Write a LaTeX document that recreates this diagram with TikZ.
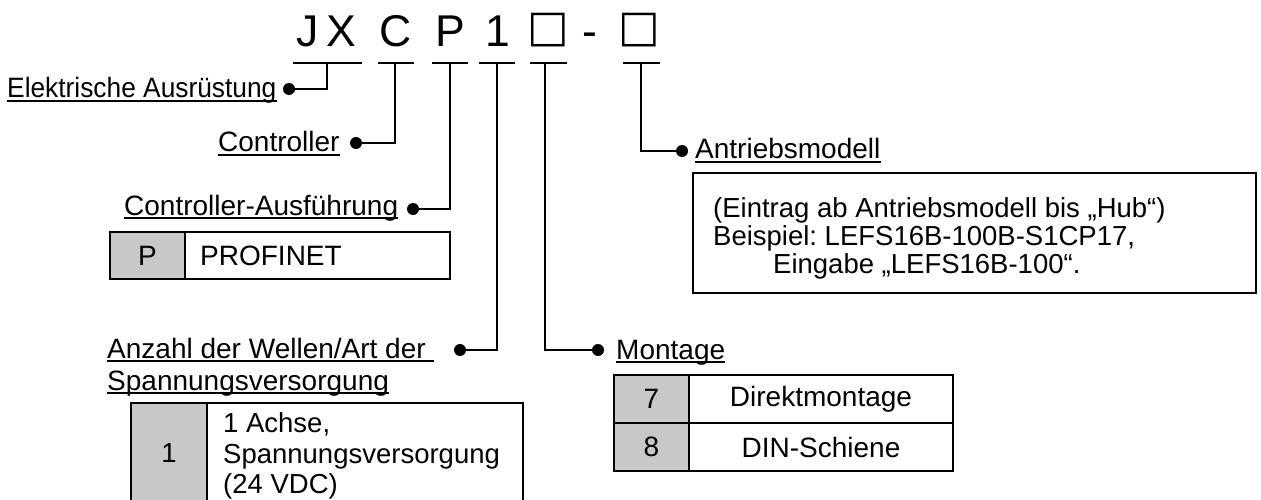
\documentclass[tikz,border=0pt]{standalone}
\usepackage{fontspec}
\setmainfont{Liberation Sans}
\newfontfamily\symfont{DejaVu Sans}
\newfontfamily\condfont[FakeStretch=0.94]{Liberation Sans}
\definecolor{cellgray}{RGB}{200,200,200}
\frenchspacing
\begin{document}
\begin{tikzpicture}[x=1pt,y=-1pt,
  lbl/.style={font=\fontsize{28}{32}\selectfont, anchor=base west, inner sep=0pt},
  txt/.style={font=\fontsize{27.5}{30}\selectfont, anchor=base west, inner sep=0pt},
  ctxt/.style={font=\fontsize{27.5}{30}\selectfont, inner sep=0pt},
  ttl/.style={font=\fontsize{44.5}{50}\selectfont, anchor=base, inner sep=0pt},
  ttlbox/.style={font=\symfont\fontsize{44}{50}\selectfont, anchor=base, inner sep=0pt},
  dot/.style={circle, fill=black, minimum size=12pt, inner sep=0pt},
  conn/.style={line width=1.8pt},
  ul/.style={line width=2.4pt},
  cell/.style={draw, line width=2.2pt, inner sep=0pt},
  gcell/.style={cell, fill=cellgray}]
\useasboundingbox (0,0) rectangle (1261,500);

% title
\node[ttl] (tJ) at (308,47) {J};
\node[ttl] (tX) at (341,47) {X};
\node[ttl] (tC) at (396,47) {C};
\node[ttl] (tP) at (450,47) {P};
\node[ttl] (t1) at (498,47) {1};
\node[ttlbox] (tb1) at (548,42) {□};
\node[ttl] (tm) at (590,47) {-};
\node[ttlbox] (tb2) at (639,42) {□};

% underline segments under the code
\coordinate (aL) at (293,63); \coordinate (aR) at (362,63); \coordinate (aJ) at (327,63);
\coordinate (bL) at (378,63); \coordinate (bR) at (414,63); \coordinate (bJ) at (395,63);
\coordinate (cL) at (432,63); \coordinate (cR) at (468,63); \coordinate (cJ) at (450,63);
\coordinate (dL) at (479,63); \coordinate (dR) at (515,63); \coordinate (dJ) at (497,63);
\coordinate (eL) at (530,63); \coordinate (eR) at (567,63); \coordinate (eJ) at (545,63);
\coordinate (fL) at (623,63); \coordinate (fR) at (660,63); \coordinate (fJ) at (641,63);
\draw[conn] (aL) -- (aR);
\draw[conn] (bL) -- (bR);
\draw[conn] (cL) -- (cR);
\draw[conn] (dL) -- (dR);
\draw[line width=2.8pt] (eL) -- (eR);
\draw[conn] (fL) -- (fR);

% dots
\node[dot] (d1) at (289,89) {};
\node[dot] (d2) at (356,143) {};
\node[dot] (d3) at (413,209) {};
\node[dot] (d4) at (460,350) {};
\node[dot] (d5) at (598,350) {};
\node[dot] (d6) at (682,151) {};

% connectors
\draw[conn] (aJ) |- (d1.center);
\draw[conn] (bJ) |- (d2.center);
\draw[conn] (cJ) |- (d3.center);
\draw[conn] (dJ) |- (d4.center);
\draw[conn] (eJ) |- (d5.center);
\draw[conn] (fJ) |- (d6.center);

% labels
\node[lbl] (l1) at (7,98) {\condfont Elektrische Ausrüstung};
\node[lbl] (l2) at (218,152) {Controller};
\node[lbl] (l3) at (124,215) {Controller-Ausführung};
\node[lbl] (l4a) at (107,358) {Anzahl der Wellen/Art der};
\node[lbl] (l4b) at (107,390) {Spannungsversorgung};
\node[lbl] (l5) at (616,359) {Montage};
\node[lbl] (l6) at (695,159) {Antriebsmodell};
\foreach \n in {l1,l2,l3,l4b,l5,l6}
  \draw[ul] ([yshift=-3pt]\n.base west) -- ([yshift=-3pt]\n.base east);
\draw[ul] ([yshift=-3pt]l4a.base west) -- ([xshift=8pt,yshift=-3pt]l4a.base east);

% PROFINET table
\node[gcell, minimum width=75pt, minimum height=47pt, font=\fontsize{28}{32}\selectfont] (pP) at (147.5,255.5) {P};
\node[cell, minimum width=265pt, minimum height=47pt] (pT) at (317.5,255.5) {};
\node[lbl, anchor=west] (pTx) at (200,255.5) {PROFINET};

% axis table
\node[gcell, minimum width=76pt, minimum height=100pt] (aG) at (169,453) {};
\node[ctxt] (aGt) at (169,453) {1};
\node[cell, minimum width=316pt, minimum height=100pt] (aW) at (365,453) {};
\node[txt] (aW1) at (223,432) {1 Achse,};
\node[txt] (aW2) at (223,463) {Spannungsversorgung};
\node[txt] (aW3) at (223,493) {(24 VDC)};

% mounting table
\node[gcell, minimum width=75pt, minimum height=48pt, font=\fontsize{28}{32}\selectfont] (m7) at (651.5,399) {7};
\node[gcell, minimum width=75pt, minimum height=48pt, font=\fontsize{28}{32}\selectfont] (m8) at (651.5,447) {8};
\node[cell, minimum width=264pt, minimum height=48pt, font=\fontsize{28}{32}\selectfont] (m7t) at (821,399) {Direktmontage};
\node[cell, minimum width=264pt, minimum height=48pt, font=\fontsize{28}{32}\selectfont] (m8t) at (821,447) {DIN-Schiene};

% actuator box
\node[cell, line width=1.8pt, minimum width=563pt, minimum height=120pt] (ab) at (974.5,233) {};
\node[txt] (ab1) at (713,217) {(Eintrag ab Antriebsmodell bis „Hub“)};
\node[txt] (ab2) at (713,245) {Beispiel: LEFS16B-100B-S1CP17,};
\node[txt] (ab3) at (773,273) {Eingabe „LEFS16B-100“.};
\end{tikzpicture}
\end{document}
